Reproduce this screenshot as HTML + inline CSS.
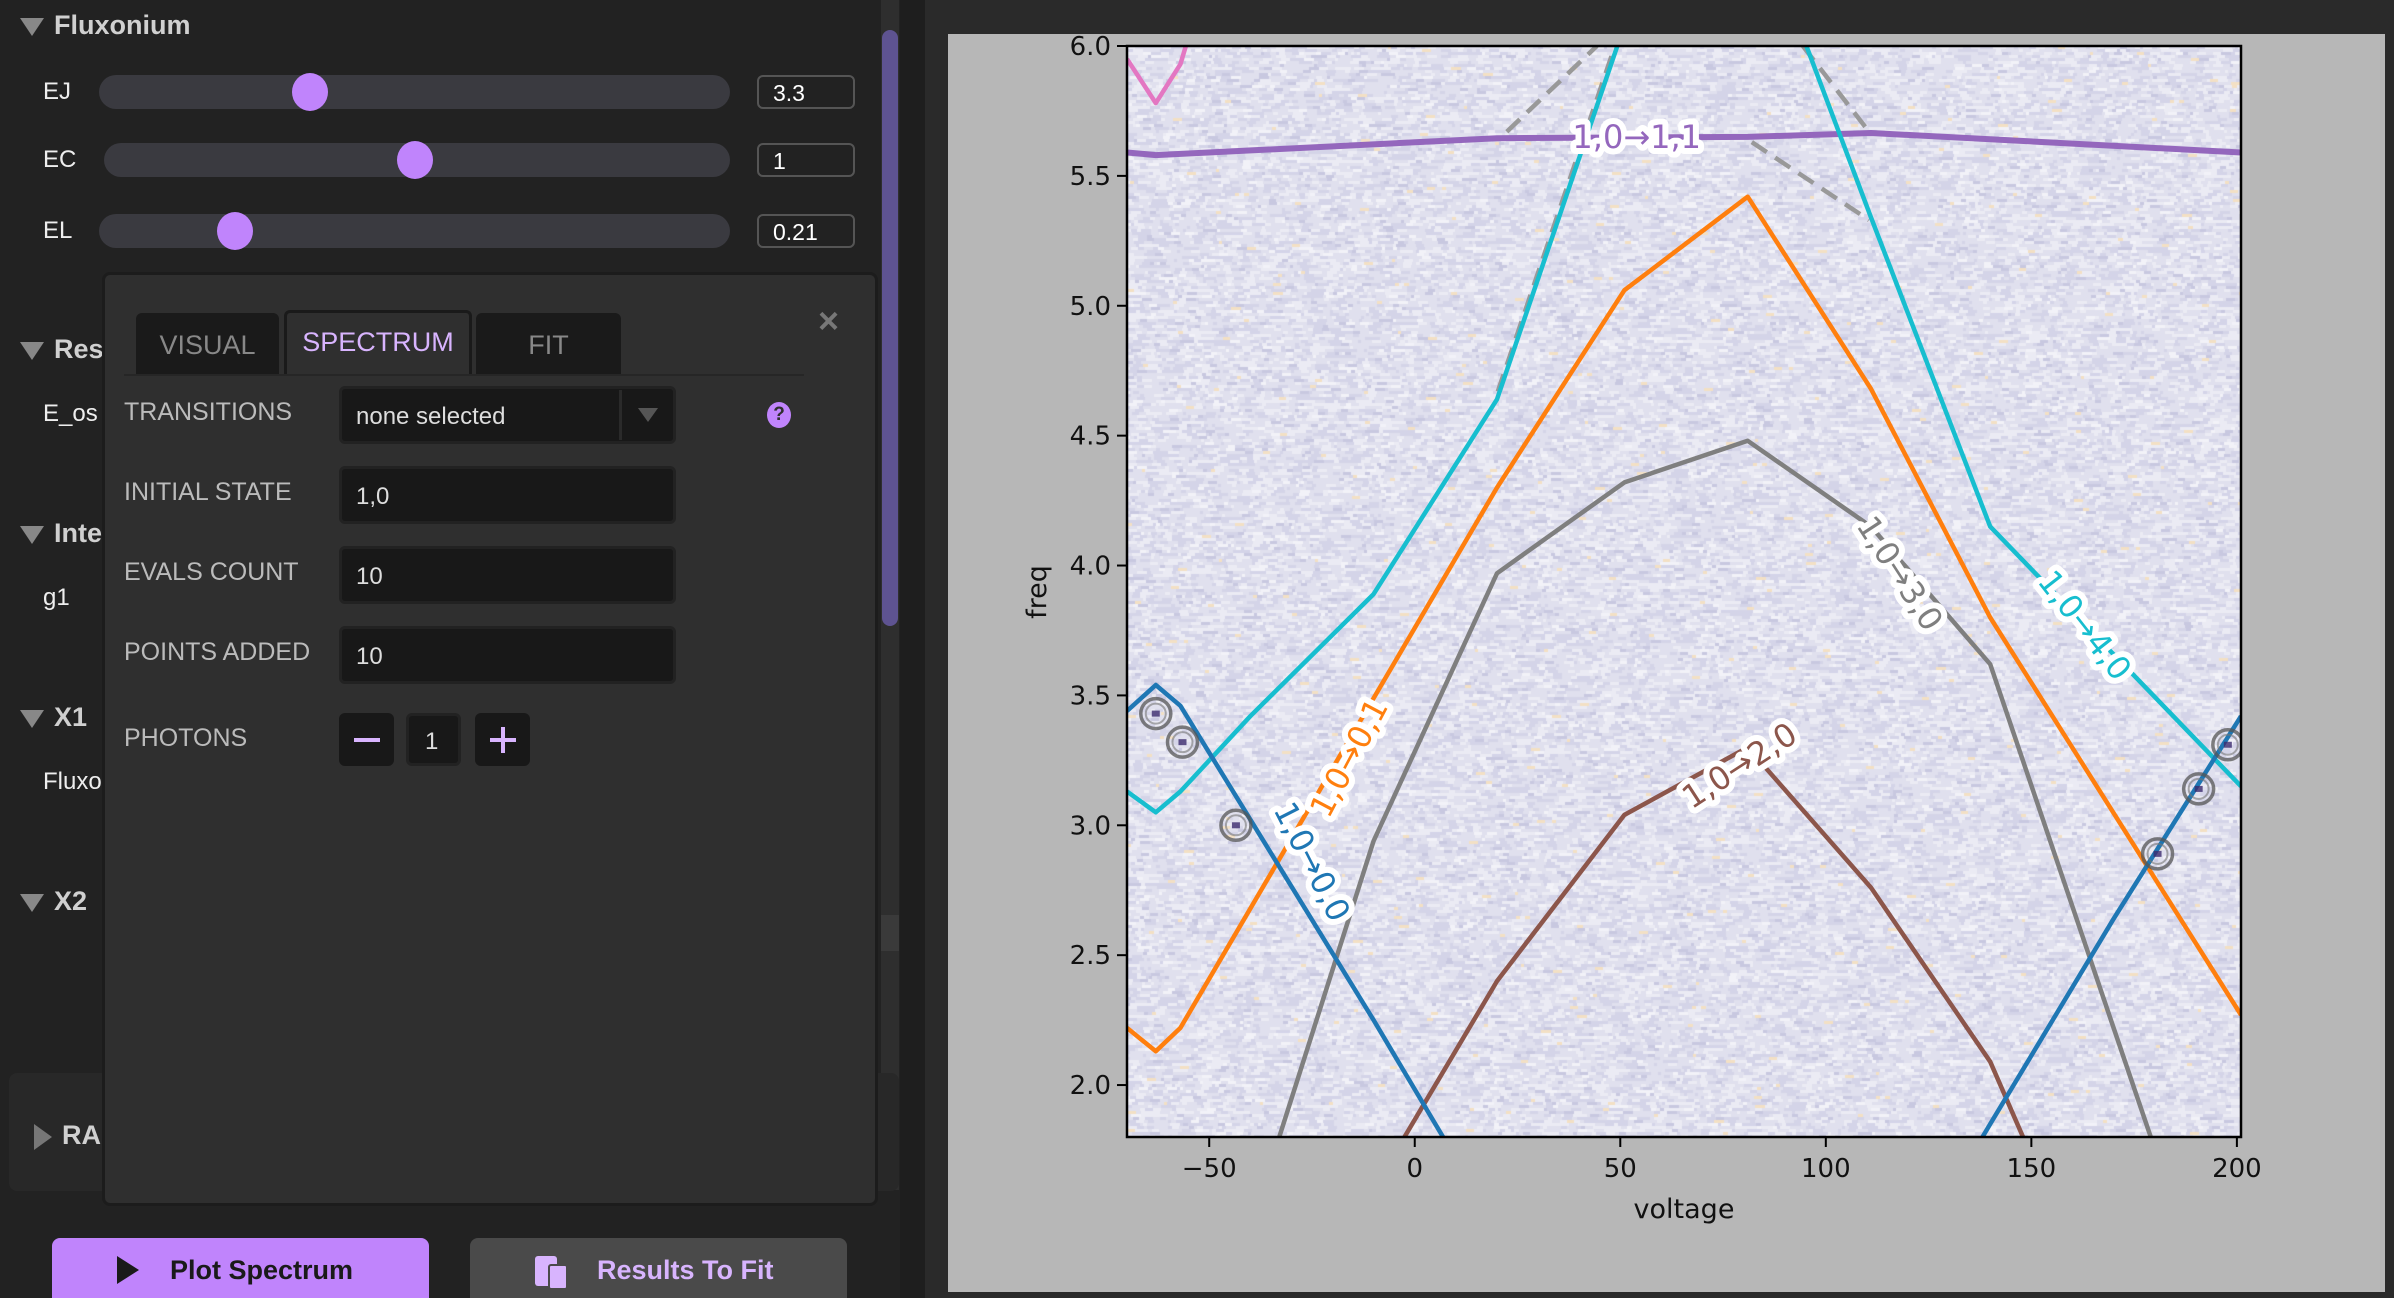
<!DOCTYPE html>
<html><head><meta charset="utf-8"><style>
*{box-sizing:border-box;margin:0;padding:0}
html,body{width:2394px;height:1298px;overflow:hidden}
body{background:#2a2a2a;position:relative;font-family:"Liberation Sans",sans-serif}
.a{position:absolute}
.hdr{color:#d0d0d0;font-weight:bold;font-size:27px}
.tri{display:inline-block;width:0;height:0;border-left:12px solid transparent;border-right:12px solid transparent;border-top:18px solid #888;margin-right:10px;vertical-align:middle}
.lbl{color:#eee;font-size:24px}
.track{background:#3a3a40;border-radius:18px;height:34px}
.thumb{width:36px;height:38px;border-radius:50%;background:#c084fc}
.vbox{border:2px solid #555;border-radius:6px;height:34px;width:98px;color:#fff;font-size:23px;padding:3px 14px}
.mlab{color:#bbb;font-size:25px}
.inp{background:#181818;border:3px solid #222;border-radius:6px;height:58px;color:#ddd;font-size:24px;padding:14px 14px}
.tab{background:#1a1a1a;border-radius:6px 6px 0 0;color:#888;font-size:27px;text-align:center;padding-top:17px}
</style></head><body>
<div class="a" style="left:0;top:0;width:900px;height:1298px;background:#222"></div>
<div class="a" style="left:881px;top:0;width:18px;height:1190px;background:#2e2e2e"></div>
<div class="a" style="left:882px;top:30px;width:16px;height:596px;background:#5e5391;border-radius:8px"></div>
<div class="a" style="left:900px;top:0;width:25px;height:1298px;background:#1e1e1e"></div>

<div class="a hdr" style="left:20px;top:10px"><span class="tri"></span>Fluxonium</div>
<div class="a lbl" style="left:43px;top:78px">EJ</div>
<div class="a track" style="left:99px;top:75px;width:631px"></div>
<div class="a thumb" style="left:292px;top:73px"></div>
<div class="a vbox" style="left:757px;top:75px">3.3</div>
<div class="a lbl" style="left:43px;top:146px">EC</div>
<div class="a track" style="left:104px;top:143px;width:626px"></div>
<div class="a thumb" style="left:397px;top:141px"></div>
<div class="a vbox" style="left:757px;top:143px">1</div>
<div class="a lbl" style="left:43px;top:217px">EL</div>
<div class="a track" style="left:99px;top:214px;width:631px"></div>
<div class="a thumb" style="left:217px;top:212px"></div>
<div class="a vbox" style="left:757px;top:214px">0.21</div>

<div class="a hdr" style="left:20px;top:334px"><span class="tri"></span>Res</div>
<div class="a lbl" style="left:43px;top:400px">E_os</div>
<div class="a hdr" style="left:20px;top:518px"><span class="tri"></span>Inte</div>
<div class="a lbl" style="left:43px;top:584px">g1</div>
<div class="a hdr" style="left:20px;top:702px"><span class="tri"></span>X1</div>
<div class="a lbl" style="left:43px;top:768px">Fluxo</div>
<div class="a hdr" style="left:20px;top:886px"><span class="tri"></span>X2</div>
<div class="a" style="left:881px;top:915px;width:18px;height:36px;background:#3a3a3a"></div>
<div class="a" style="left:9px;top:1073px;width:890px;height:118px;background:#282828;border-radius:8px"></div>
<div class="a hdr" style="left:34px;top:1120px"><span style="display:inline-block;width:0;height:0;border-top:13px solid transparent;border-bottom:13px solid transparent;border-left:18px solid #777;margin-right:10px;vertical-align:middle"></span>RA</div>

<div class="a" style="left:102px;top:272px;width:776px;height:934px;background:#2f2f2f;border:3px solid #1c1c1c;border-radius:8px"></div>
<div class="a" style="left:818px;top:300px;color:#777;font-size:36px;font-weight:bold">×</div>
<div class="a tab" style="left:136px;top:313px;width:143px;height:61px">VISUAL</div>
<div class="a tab" style="left:284px;top:310px;width:188px;height:64px;background:#2f2f2f;border:3px solid #1a1a1a;border-bottom:none;color:#d8b4fe;padding-top:14px">SPECTRUM</div>
<div class="a tab" style="left:476px;top:313px;width:145px;height:61px">FIT</div>
<div class="a" style="left:124px;top:374px;width:680px;height:2px;background:#262626"></div>

<div class="a mlab" style="left:124px;top:398px">TRANSITIONS</div>
<div class="a inp" style="left:339px;top:386px;width:337px">none selected</div>
<div class="a" style="left:619px;top:390px;width:3px;height:50px;background:#2a2a2a"></div>
<div class="a" style="left:638px;top:408px;width:0;height:0;border-left:10px solid transparent;border-right:10px solid transparent;border-top:14px solid #555"></div>
<div class="a" style="left:767px;top:402px;width:24px;height:26px;border-radius:50%;background:#c084fc;color:#2f2f2f;font-size:19px;font-weight:bold;text-align:center;line-height:26px">?</div>
<div class="a mlab" style="left:124px;top:478px">INITIAL STATE</div>
<div class="a inp" style="left:339px;top:466px;width:337px">1,0</div>
<div class="a mlab" style="left:124px;top:558px">EVALS COUNT</div>
<div class="a inp" style="left:339px;top:546px;width:337px">10</div>
<div class="a mlab" style="left:124px;top:638px">POINTS ADDED</div>
<div class="a inp" style="left:339px;top:626px;width:337px">10</div>
<div class="a mlab" style="left:124px;top:724px">PHOTONS</div>
<div class="a" style="left:339px;top:713px;width:55px;height:53px;background:#181818;border-radius:6px"><div style="position:absolute;left:15px;top:25px;width:26px;height:4px;background:#d8b4fe"></div></div>
<div class="a inp" style="left:406px;top:713px;width:55px;height:53px;padding:12px 16px">1</div>
<div class="a" style="left:475px;top:713px;width:55px;height:53px;background:#181818;border-radius:6px"><div style="position:absolute;left:15px;top:25px;width:26px;height:4px;background:#d8b4fe"></div><div style="position:absolute;left:26px;top:14px;width:4px;height:26px;background:#d8b4fe"></div></div>

<div class="a" style="left:52px;top:1238px;width:377px;height:60px;background:#c084fc;border-radius:8px 8px 0 0;color:#1a1a1a;font-size:27px;font-weight:bold;padding:17px 0 0 118px"><span style="position:absolute;left:65px;top:18px;width:0;height:0;border-top:14px solid transparent;border-bottom:14px solid transparent;border-left:22px solid #1a1a1a"></span>Plot Spectrum</div>
<div class="a" style="left:470px;top:1238px;width:377px;height:60px;background:#4a4a4a;border-radius:8px 8px 0 0;color:#d8b4fe;font-size:27px;font-weight:bold;padding:17px 0 0 127px"><span style="position:absolute;left:65px;top:18px;width:22px;height:30px;background:#d8b4fe;border-radius:3px"></span><span style="position:absolute;left:78px;top:26px;width:20px;height:26px;background:#d8b4fe;border:2px solid #4a4a4a;border-radius:3px"></span>Results To Fit</div>

<div class="a" style="left:948px;top:34px;width:1437px;height:1258px;background:#b7b7b7"></div>
<canvas id="hm" class="a" width="1114" height="1091" style="left:1127px;top:46px"></canvas>
<svg id="ch" class="a" width="2394" height="1298" style="left:0;top:0" xmlns="http://www.w3.org/2000/svg"></svg>
<script>
const xTicks=[-50,0,50,100,150,200];
const yTicks=[2.0,2.5,3.0,3.5,4.0,4.5,5.0,5.5,6.0];
const sBlueX=[-70,-63,-57,-10,20];           const sBlueY=[3.44,3.54,3.46,2.25,1.45];
const sBlueRX=[110,140,170,201];              const sBlueRY=[1.05,1.85,2.64,3.42];
const sOrangeX=[-70,-63,-57,20,51,81,111,140,201]; const sOrangeY=[2.22,2.13,2.22,4.3,5.06,5.42,4.68,3.8,2.27];
const sGrayX=[-40,-10,20,51,81,111,140,170,201];   const sGrayY=[1.45,2.94,3.97,4.32,4.48,4.15,3.62,2.22,0.78];
const sBrownX=[-10,20,51,81,111,140,170];      const sBrownY=[1.6,2.4,3.04,3.3,2.76,2.09,1.0];
const sCyanX=[-70,-63,-57,-40,-10,20,51,81,111,140,201]; const sCyanY=[3.13,3.05,3.13,3.42,3.89,4.64,6.08,6.6,5.34,4.15,3.15];
const sPurpleX=[-70,-63,20,81,111,201];        const sPurpleY=[5.59,5.58,5.645,5.65,5.665,5.59];
const sPinkX=[-70,-63,-57,-50];                const sPinkY=[5.95,5.78,5.93,6.3];
const dashX=[[22.4,44.3],[20.2,48.7],[94.4,110.5],[82,110.5]];
const dashY=[[5.67,6.0],[4.67,6.0],[6.0,5.67],[5.63,5.33]];
const ptX=[-63,-56.5,-43.5,180.7,190.7,197.8];
const ptY=[3.43,3.32,3.0,2.89,3.14,3.31];
const labText=["1,0→1,1","1,0→3,0","1,0→4,0","1,0→0,1","1,0→2,0","1,0→0,0"];
const labX=[54,118,163,-16,79,-25];
const labY=[5.65,3.97,3.77,3.26,3.23,2.86];
const labRot=[0,57,52,-62,-33,63];
const labCol=["#9467bd","#7f7f7f","#17becf","#ff7f0e","#8c564b","#1f77b4"];

const L=1127,R=2241,T=46,B=1137,X0=-70,X1=201,Y0=1.8,Y1=6.0;
const sx=v=>L+(v-X0)/(X1-X0)*(R-L);
const sy=v=>B-(v-Y0)/(Y1-Y0)*(B-T);
const NS='http://www.w3.org/2000/svg';
const svg=document.getElementById('ch');
function mk(t,a,p){const e=document.createElementNS(NS,t);for(const k in a)e.setAttribute(k,a[k]);(p||svg).appendChild(e);return e;}

// heatmap texture (deterministic)
const cv=document.getElementById('hm'),cx=cv.getContext('2d');
cx.fillStyle='#e0e0ee';cx.fillRect(0,0,1114,1091);
let seed=12345;const rnd=()=>{seed=(seed*1103515245+12345)%2147483648;return seed/2147483648;};
for(let y=0;y<1091;y+=3){for(let x=0;x<1114;){const w=3+Math.floor(rnd()*8);const r=rnd();
 cx.fillStyle=r<0.25?'#d4d4e8':r<0.5?'#ebebf4':r<0.55?'#c8c8e0':r<0.56?'#f3e0c4':r<0.6?'#f2f2f8':'#e0e0ee';cx.fillRect(x,y,w,3);x+=w;}}

const defs=mk('defs',{});
const cp=mk('clipPath',{id:'pc'},defs);mk('rect',{x:L,y:T,width:R-L,height:B-T},cp);
const g=mk('g',{'clip-path':'url(#pc)'});
function line(xs,ys,col,name,extra){const d=xs.map((v,i)=>(i?'L':'M')+sx(v).toFixed(1)+','+sy(ys[i]).toFixed(1)).join('');
 const p=mk('path',Object.assign({d:d,fill:'none',stroke:col,'stroke-width':4.5,'stroke-linejoin':'round'},extra||{}),g);
 
 }
for(let i=0;i<dashX.length;i++)line(dashX[i],dashY[i],'#999','dashed-transition-'+i,{'stroke-dasharray':'18,10','stroke-width':4.5});
line(sPinkX,sPinkY,'#e377c2','pink-transition-line');
line(sPurpleX,sPurpleY,'#9467bd','transition-1-0-to-1-1',{'stroke-width':6});
line(sCyanX,sCyanY,'#17becf','transition-1-0-to-4-0');
line(sOrangeX,sOrangeY,'#ff7f0e','transition-1-0-to-0-1');
line(sGrayX,sGrayY,'#7f7f7f','transition-1-0-to-3-0');
line(sBrownX,sBrownY,'#8c564b','transition-1-0-to-2-0');
line(sBlueX,sBlueY,'#1f77b4','transition-1-0-to-0-0');
line(sBlueRX,sBlueRY,'#1f77b4','transition-1-0-to-0-0-right');
for(let i=0;i<ptX.length;i++){const c=mk('g',{},g);
 
 
 mk('circle',{cx:sx(ptX[i]),cy:sy(ptY[i]),r:15,fill:'none',stroke:'#555','stroke-width':3.5,opacity:0.75},c);
 mk('circle',{cx:sx(ptX[i]),cy:sy(ptY[i]),r:10,fill:'none',stroke:'#777','stroke-width':2,opacity:0.6},c);
 mk('rect',{x:sx(ptX[i])-4,y:sy(ptY[i])-3,width:8,height:6,fill:'#3b2a6e',opacity:0.8},c);}
for(let i=0;i<labText.length;i++){const x=sx(labX[i]),y=sy(labY[i]);
 const t=mk('text',{x:x,y:y,'text-anchor':'middle','dominant-baseline':'central','font-size':32,'font-family':'DejaVu Sans, sans-serif',fill:labCol[i],stroke:'#fff','stroke-width':12,'stroke-linejoin':'round','paint-order':'stroke',transform:`rotate(${labRot[i]} ${x} ${y})`},g);
 t.textContent=labText[i];
 
 }
const fr=mk('rect',{x:L,y:T,width:R-L,height:B-T,fill:'none',stroke:'#000','stroke-width':2.5});


xTicks.forEach(v=>{const x=sx(v);mk('line',{x1:x,x2:x,y1:B,y2:B+10,stroke:'#000','stroke-width':2});
 const t=mk('text',{x:x,y:B+40,'text-anchor':'middle','font-size':26,'font-family':'DejaVu Sans, sans-serif',fill:'#111'});t.textContent=v<0?'−'+(-v):v;
 
 });
yTicks.forEach(v=>{const y=sy(v);mk('line',{x1:L-10,x2:L,y1:y,y2:y,stroke:'#000','stroke-width':2});
 const t=mk('text',{x:L-16,y:y+9,'text-anchor':'end','font-size':26,'font-family':'DejaVu Sans, sans-serif',fill:'#111'});t.textContent=v.toFixed(1);
 
 });
const xt=mk('text',{x:(L+R)/2,y:1218,'text-anchor':'middle','font-size':27,'font-family':'DejaVu Sans, sans-serif',fill:'#111'});xt.textContent='voltage';


const yt=mk('text',{x:1046,y:592,'text-anchor':'middle','font-size':27,'font-family':'DejaVu Sans, sans-serif',fill:'#111',transform:'rotate(-90 1046 592)'});yt.textContent='freq';


</script>
</body></html>
